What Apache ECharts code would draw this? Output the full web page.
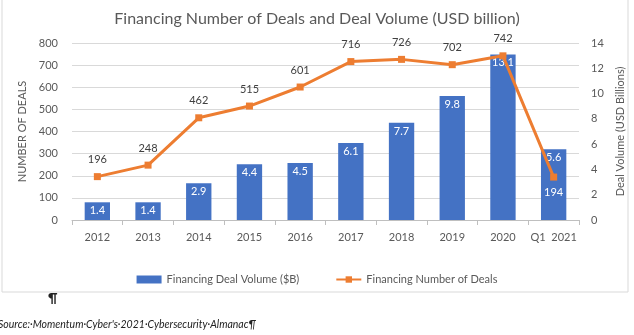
<!DOCTYPE html>
<html><head><meta charset="utf-8">
<script src="https://cdn.jsdelivr.net/npm/echarts@6/dist/echarts.min.js"></script>
<style>html,body{margin:0;padding:0;background:#fff}#c{width:634px;height:335px}</style>
</head><body><div id="c"></div>
<script>
const categories = ['2012','2013','2014','2015','2016','2017','2018','2019','2020','Q1  2021'];
const dealVolume = [1.4, 1.4, 2.9, 4.4, 4.5, 6.1, 7.7, 9.8, 13.1, 5.6];
const dealCount = [196, 248, 462, 515, 601, 716, 726, 702, 742, 194];
const FONT = 'Lato, "Open Sans", sans-serif';
const chart = echarts.init(document.getElementById('c'));
const countData = dealCount.map((v, i) => i === dealCount.length - 1
  ? {value: v, label: {position: 'bottom', color: '#ffffff', distance: 6}} : v);
chart.setOption({
  animation: false,
  textStyle: {fontFamily: FONT},
  title: {text: 'Financing Number of Deals and Deal Volume (USD billion)', left: 'center', top: 6,
    textStyle: {fontFamily: FONT, fontSize: 16, fontWeight: 'normal', color: '#595959'}},
  grid: {left: 72, right: 53, top: 43, bottom: 115},
  legend: {bottom: 45, itemGap: 36, itemWidth: 25, itemHeight: 8,
    textStyle: {fontFamily: FONT, fontSize: 11, color: '#595959'},
    data: [{name: 'Financing Deal Volume ($B)', icon: 'rect'}, {name: 'Financing Number of Deals'}]},
  xAxis: {type: 'category', data: categories, boundaryGap: true,
    axisLine: {lineStyle: {color: '#bfbfbf'}},
    axisTick: {show: true, length: 5, lineStyle: {color: '#bfbfbf'}},
    axisLabel: {color: '#595959', fontSize: 11, margin: 12, interval: 0, fontFamily: FONT}},
  yAxis: [
    {type: 'value', min: 0, max: 800, interval: 100, name: 'NUMBER OF DEALS', nameLocation: 'middle',
     nameGap: 42, nameTextStyle: {color: '#595959', fontSize: 11, fontFamily: FONT},
     axisLabel: {color: '#595959', fontSize: 11, margin: 14, fontFamily: FONT},
     splitLine: {lineStyle: {color: '#d9d9d9'}}},
    {type: 'value', min: 0, max: 14, interval: 2, name: 'Deal Volume (USD Billions)', nameLocation: 'middle',
     nameGap: 36, nameTextStyle: {color: '#595959', fontSize: 11, fontFamily: FONT},
     axisLabel: {color: '#595959', fontSize: 11, margin: 12, fontFamily: FONT},
     splitLine: {show: false}}
  ],
  series: [
    {name: 'Financing Deal Volume ($B)', type: 'bar', yAxisIndex: 1, data: dealVolume, barWidth: '50%',
     itemStyle: {color: '#4472C4'},
     label: {show: true, position: 'insideTop', color: '#ffffff', fontSize: 11, distance: 3, fontFamily: FONT}},
    {name: 'Financing Number of Deals', type: 'line', yAxisIndex: 0, data: countData,
     symbol: 'rect', symbolSize: 7, lineStyle: {color: '#ED7D31', width: 3},
     itemStyle: {color: '#ED7D31'},
     label: {show: true, position: 'top', color: '#404040', fontSize: 11, distance: 8, fontFamily: FONT}}
  ],
  graphic: [
    {type: 'rect', shape: {x: 2, y: -2, width: 626, height: 294}, style: {fill: 'none', stroke: '#d9d9d9', lineWidth: 1}},
    {type: 'text', left: 48, top: 292, style: {text: '¶', font: 'bold 13px ' + FONT, fill: '#222'}},
    {type: 'text', left: -2, top: 319, style: {text: 'Source:·Momentum·Cyber\'s·2021·Cybersecurity·Almanac¶',
      font: 'italic 10.5px ' + FONT, fill: '#222'}}
  ]
});
</script></body></html>
